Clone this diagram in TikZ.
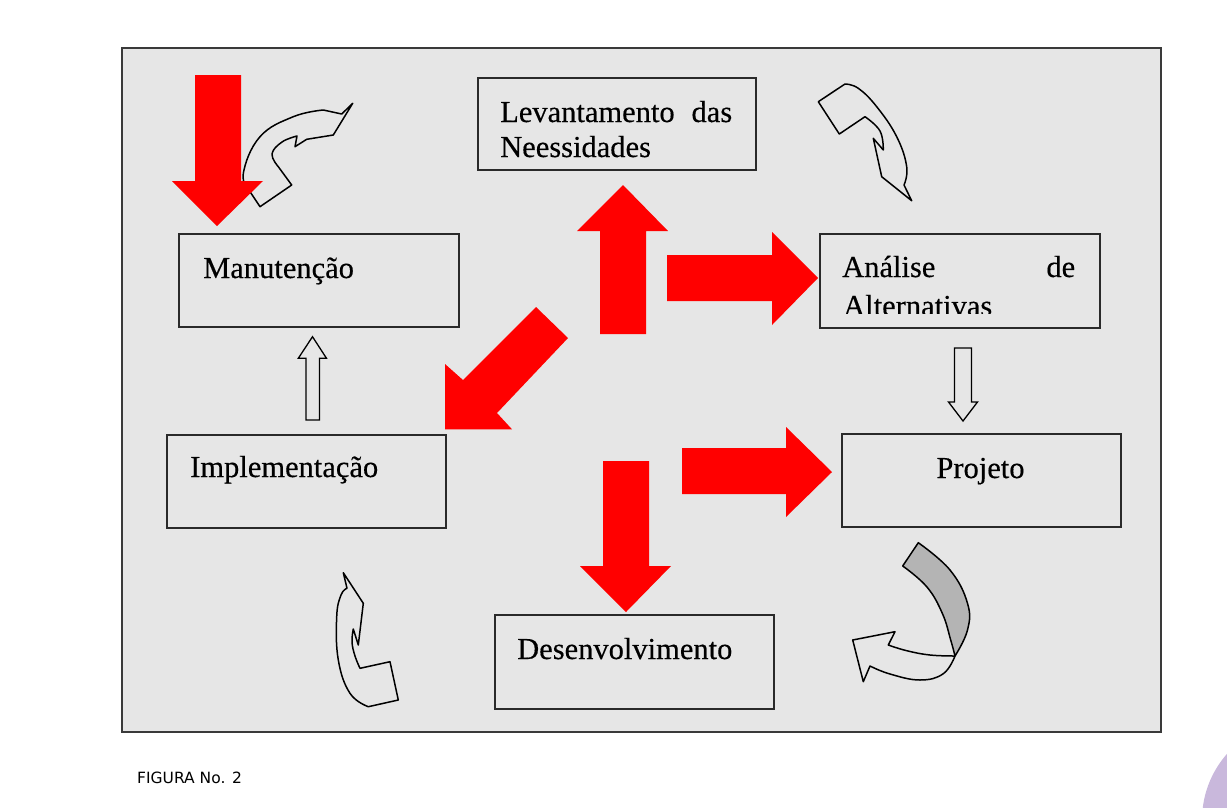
\documentclass[tikz,border=0pt]{standalone}
\usepackage{fontspec}
\setmainfont{Liberation Serif}[FakeBold=0.35]
\newfontfamily\capfont{DejaVu Sans}
\definecolor{bggray}{HTML}{E6E6E6}
\definecolor{framecol}{HTML}{3A3A3A}
\definecolor{boxline}{HTML}{2A2A2A}
\definecolor{redarrow}{HTML}{FF0000}
\definecolor{ribbon}{HTML}{B4B4B4}
\definecolor{lavender}{HTML}{C9B8DC}
\tikzset{
  stagebox/.style={draw=boxline, line width=1.8pt, rectangle, inner sep=0pt, anchor=north west},
  stagetext/.style={inner sep=0pt, font=\fontsize{30.5}{35}\selectfont, text=black},
  redblock/.style={fill=redarrow, draw=none},
  hollow/.style={draw=black, line width=1.3pt, fill=bggray, line join=miter},
  curvy/.style={draw=black, line width=1.5pt, fill=bggray, line join=round}
}
\begin{document}
\begin{tikzpicture}[x=1pt, y=-1pt]
\useasboundingbox (0,0) rectangle (1227,807);
% purple corner circle
\begin{scope}
  \clip (0,0) rectangle (1227,807);
  \fill[lavender] (1302,820) circle (100);
\end{scope}
% frame
\draw[framecol, line width=1.6pt, fill=bggray] (122,48) rectangle (1161,732);

% stage boxes
\node[stagebox, minimum width=278pt, minimum height=92pt] (lev) at (477,77) {};
\node[stagebox, minimum width=280pt, minimum height=93pt] (man) at (178,233) {};
\node[stagebox, minimum width=280pt, minimum height=94pt] (ana) at (819,233) {};
\node[stagebox, minimum width=279pt, minimum height=93pt] (imp) at (166,434) {};
\node[stagebox, minimum width=279pt, minimum height=93pt] (pro) at (841,433) {};
\node[stagebox, minimum width=279pt, minimum height=94pt] (des) at (494,614) {};

% texts
\node[stagetext, anchor=base west] (levt1) at (500,122) {\makebox[232pt][s]{Levantamento\hfill das}};
\node[stagetext, anchor=base west] (levt2) at (500,157) {Neessidades};
\node[stagetext, anchor=base west] (mant) at (203,278) {Manutenção};
\node[stagetext, anchor=base west] (anat1) at (842,277) {\makebox[233pt][s]{Análise\hfill de}};
\begin{scope}
  \clip (820,290) rectangle (1098,313.5);
  \node[stagetext, anchor=base west] (anat2) at (843,316) {Alternativas};
\end{scope}
\node[stagetext, anchor=base west] (impt) at (190,477) {Implementação};
\node[stagetext, anchor=base] (prot) at (980.5,478) {Projeto};
\node[stagetext, anchor=base west] (dest) at (517,659) {Desenvolvimento};

% caption
\node[inner sep=0pt, anchor=base west, font=\capfont\fontsize{15.5}{18}\selectfont, text=black] (cap) at (137,783) {FIGURA No. 2};

% hollow straight arrows
\draw[hollow] (306,420) -- (319.5,420) -- (319.5,358.3) -- (326.5,358.3) -- (312.5,336.7) -- (298.3,358.3) -- (306,358.3) -- cycle;
\draw[hollow] (954.5,348) -- (971.5,348) -- (971.5,402) -- (977.5,402) -- (963,421) -- (948.5,402) -- (954.5,402) -- cycle;

% curved outline arrows
% top-left
\draw[curvy] (278.3,166.7) -- (291.7,185) -- (260,206.7) -- (250,191.7)
  -- plot[smooth, tension=0.7] coordinates {(250,191.7) (243.3,173.3) (260,136.7) (293.3,116.7) (323.3,110)}
  -- (341.7,114) -- (352.7,103.3) -- (333.3,135) -- (306.7,139.3) -- (295,146.7) -- (297,136)
  -- plot[smooth, tension=0.7] coordinates {(297,136) (282,142) (272,154) (278.3,166.7)} -- cycle;
% top-right
\draw[curvy] (818.3,101.7) -- (845,84)
  -- plot[smooth, tension=0.7] coordinates {(845,84) (858.3,88.3) (876.7,106.7) (896.7,136.7) (906.7,166.7) (904,185)}
  -- (911.7,200.7) -- (881.7,176.7) -- (873.3,138.3) -- (883.3,150)
  -- plot[smooth, tension=0.7] coordinates {(883.3,150) (880,131) (865,116.7)}
  -- (839.3,134) -- cycle;
% bottom-left
\draw[curvy] (343.3,572.7) -- (363.3,603.3) -- (358.3,645) -- (353.3,629)
  -- plot[smooth, tension=0.7] coordinates {(353.3,629) (352,642) (355,656) (360,668.3)}
  -- (390,661.7) -- (398.3,700) -- (368.3,706.7)
  -- plot[smooth, tension=0.7] coordinates {(368.3,706.7) (350,693.3) (338.3,660) (336.7,616.7) (341,595) (347,588.3)}
  -- cycle;
% bottom-right: grey back ribbon
\draw[curvy, fill=ribbon] (902.7,566) -- (918.3,542.7)
  -- plot[smooth, tension=0.7] coordinates {(918.3,542.7) (950,570) (967.5,603.3) (967.5,630) (955,656)}
  -- plot[smooth, tension=0.7] coordinates {(955,656) (950.7,640) (942.3,613.3) (926.7,586.7) (902.7,566)}
  -- cycle;
% bottom-right: front part
\draw[curvy] (955,656)
  -- plot[smooth, tension=0.7] coordinates {(955,656) (943.3,673.7) (920,680) (890,674) (870,666)}
  -- (863.3,681.7) -- (852.7,640) -- (895,631.7) -- (888.3,645)
  -- plot[smooth, tension=0.7] coordinates {(888.3,645) (906.7,650.7) (930,655) (955,656)}
  -- cycle;

% red block arrows
\fill[redblock] (195,75) -- (241,75) -- (241,181) -- (263,181) -- (217,226) -- (172,181) -- (195,181) -- cycle;
\fill[redblock] (600,334) -- (646,334) -- (646,231) -- (668,231) -- (623,185) -- (577,231) -- (600,231) -- cycle;
\fill[redblock] (667,255) -- (772,255) -- (772,232) -- (818,278) -- (772,325) -- (772,301) -- (667,301) -- cycle;
\fill[redblock] (536,307) -- (568,338) -- (497,413) -- (512,429.3) -- (445,429.3) -- (445,364) -- (463,380) -- cycle;
\fill[redblock] (603,461) -- (649,461) -- (649,566) -- (671,566) -- (626,612) -- (580,566) -- (603,566) -- cycle;
\fill[redblock] (682,448) -- (786,448) -- (786,427) -- (832,472) -- (786,517) -- (786,494) -- (682,494) -- cycle;
\end{tikzpicture}
\end{document}
